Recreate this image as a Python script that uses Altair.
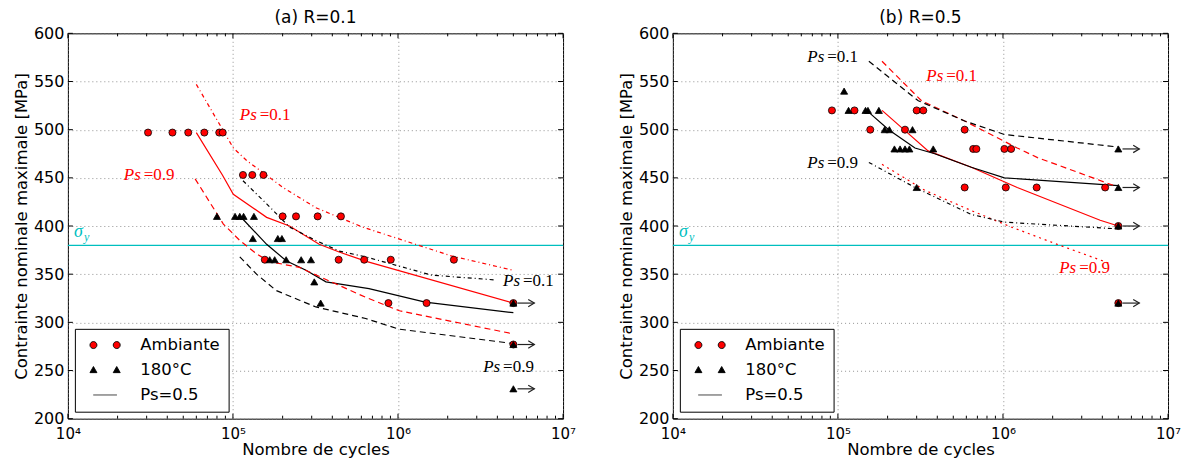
import altair as alt
import pandas as pd

W, H = 496, 386
FONT = "DejaVu Sans"
SERIF = "Liberation Serif"
RED = "#ff0000"
CYAN = "#00bfbf"

# ---------------- axis ticks ----------------
x_major = [1e4, 1e5, 1e6, 1e7]
x_minor = [2e4, 3e4, 4e4, 5e4, 6e4, 7e4, 8e4, 9e4,
           2e5, 3e5, 4e5, 5e5, 6e5, 7e5, 8e5, 9e5,
           2e6, 3e6, 4e6, 5e6, 6e6, 7e6, 8e6, 9e6]
y_major = [200, 250, 300, 350, 400, 450, 500, 550, 600]
sigma_y = [380]
RUN_N = 5.0e6
ARROW_N = [5.3e6, 6.7e6]

# ---------------- panel (a) R=0.1 ----------------
a_amb_N = [30600, 43000, 53600, 67100, 82600, 86700, 115000, 131000, 153000,
           200000, 241000, 326000, 451000, 156000, 437000, 624000, 904000, 2180000,
           875000, 1490000]
a_amb_S = [497, 497, 497, 497, 497, 497, 453, 453, 453,
           410, 410, 410, 410, 365, 365, 365, 365, 365,
           320, 320]
a_hot_N = [80000, 103000, 110000, 116000, 134000, 132000, 187000, 198000,
           167000, 179000, 210000, 259000, 297000, 311000, 340000]
a_hot_S = [410, 410, 410, 410, 410, 387, 387, 387,
           365, 365, 365, 365, 365, 342, 320]
a_run_amb_S = [320, 277]
a_run_hot_S = [320, 277, 231]

a_amb_p50_N = [60000, 86300, 100500, 160000, 220000, 333000, 440000, 650000, 5.0e6]
a_amb_p50_S = [497, 453, 433, 409, 400, 381, 373, 363, 320]
a_hot_p50_N = [115000, 160000, 210000, 277000, 366000, 667000, 1460000, 5.0e6]
a_hot_p50_S = [407, 381, 364, 354, 342, 335, 321, 310]
a_amb_p10_N = [60000, 100500, 121000, 201000, 318000, 607000, 2100000, 5.0e6]
a_amb_p10_S = [547, 481, 468, 440, 419, 399, 369, 354]
a_hot_p10_N = [115000, 160000, 220000, 318000, 440000, 637000, 1600000, 3900000]
a_hot_p10_S = [447, 423, 399, 385, 374, 368, 349, 344]
a_amb_p90_N = [59000, 87500, 110000, 139000, 167000, 253000, 383000, 637000, 1020000, 5.0e6]
a_amb_p90_S = [449, 402, 385, 371, 363, 357, 343, 326, 312, 288]
a_hot_p90_N = [110000, 139000, 183000, 253000, 318000, 637000, 1010000, 5.0e6]
a_hot_p90_S = [368, 350, 333, 323, 316, 304, 293, 278]

a_lab_val = ["0.1", "0.9", "0.1", "0.9"]
a_lab_N = [110000, 21800, 4330000, 3280000]
a_lab_S = [515, 453, 343, 254]
a_lab_col = [RED, RED, "black", "black"]

# ---------------- panel (b) R=0.5 ----------------
b_amb_N = [92000, 126000, 300000, 329000, 157000, 255000, 586000,
           660000, 690000, 1020000, 1120000, 586000, 1040000, 1600000, 4160000]
b_amb_S = [520, 520, 520, 520, 500, 500, 500,
           480, 480, 480, 480, 440, 440, 440, 440]
b_hot_N = [109000, 116000, 147000, 152000, 177000, 192000, 205000, 283000,
           220000, 238000, 255000, 271000, 378000, 300000]
b_hot_S = [540, 520, 520, 520, 520, 500, 500, 500,
           480, 480, 480, 480, 480, 440]
b_run_amb_S = [400, 320]
b_run_hot_S = [480, 440, 400, 320]

b_amb_p50_N = [185000, 255000, 352000, 643000, 1220000, 3880000, 5.0e6]
b_amb_p50_S = [520, 499, 478, 461, 440, 406, 400]
b_hot_p50_N = [154000, 203000, 293000, 386000, 643000, 1020000, 5.0e6]
b_hot_p50_S = [518, 500, 481, 475, 461, 450, 442]
b_amb_p10_N = [185000, 321000, 586000, 1220000, 1620000, 4700000]
b_amb_p10_S = [571, 530, 509, 481, 471, 442]
b_hot_p10_N = [154000, 307000, 586000, 1020000, 5.0e6]
b_hot_p10_S = [571, 530, 509, 495, 482]
b_amb_p90_N = [185000, 337000, 643000, 1120000, 2130000, 4460000]
b_amb_p90_S = [464, 437, 416, 399, 381, 361]
b_hot_p90_N = [154000, 293000, 643000, 1020000, 5.0e6]
b_hot_p90_S = [466, 440, 412, 404, 397]

b_lab_val = ["0.1", "0.1", "0.9", "0.9"]
b_lab_N = [65200, 343000, 65200, 2190000]
b_lab_S = [575, 556, 465, 356]
b_lab_col = ["black", RED, "black", RED]

SERIES = ["Ambiante", "180°C", "Ps=0.5"]
# legend glyphs: two markers per entry, like the original
LEG_SHAPES = [
    "M -4.33 0 A 1 1 0 1 0 -2.33 0 A 1 1 0 1 0 -4.33 0 Z M 2.33 0 A 1 1 0 1 0 4.33 0 A 1 1 0 1 0 2.33 0 Z",
    "M -3.33 -1 L -2.33 0.75 L -4.33 0.75 Z M 3.33 -1 L 4.33 0.75 L 2.33 0.75 Z",
    "M -3.4 0 L 3.4 0",
]

x_scale = alt.Scale(type="log", domain=[1e4, 1e7], nice=False)
y_scale = alt.Scale(domain=[200, 600], nice=False, zero=False)

x_axis = alt.Axis(values=x_major, title="Nombre de cycles", grid=True, ticks=False, domain=False,
                  labelExpr="datum.value < 5e4 ? '10⁴' : datum.value < 5e5 ? '10⁵' : datum.value < 5e6 ? '10⁶' : '10⁷'",
                  labelPadding=8, labelFontSize=15, titlePadding=0, labelFlush=False)
y_axis = alt.Axis(values=y_major, title="Contrainte nominale maximale [MPa]", grid=True, ticks=False,
                  domain=False, labelPadding=4, titlePadding=4)

X = alt.X("N:Q", scale=x_scale, axis=x_axis)
Y = alt.Y("S:Q", scale=y_scale, axis=y_axis)


def panel(title, amb_N, amb_S, hot_N, hot_S, run_amb_S, run_hot_S, curves, lab_val, lab_N, lab_S, lab_col):
    layers = []
    # sigma_y line and label
    sy = pd.DataFrame({"S": sigma_y})
    layers.append(alt.Chart(sy).mark_rule(color=CYAN, strokeWidth=1.3).encode(y=Y))
    layers.append(alt.Chart(pd.DataFrame({"N": [1.09e4], "S": sigma_y, "t": ["σ"]})).mark_text(
        align="left", baseline="alphabetic", dy=-8, font=SERIF, fontStyle="italic", fontSize=18, color=CYAN
    ).encode(x=X, y=Y, text="t:N"))
    layers.append(alt.Chart(pd.DataFrame({"N": [1.09e4], "S": sigma_y, "t": ["y"]})).mark_text(
        align="left", baseline="alphabetic", dx=10, dy=-4, font=SERIF, fontStyle="italic", fontSize=12, color=CYAN
    ).encode(x=X, y=Y, text="t:N"))

    # inward ticks on all four sides
    xt_major = pd.DataFrame({"N": x_major})
    xt_minor = pd.DataFrame({"N": x_minor})
    yt = pd.DataFrame({"S": y_major})
    for d, ln in ((xt_major, 5), (xt_minor, 3)):
        layers.append(alt.Chart(d).mark_rule(color="black", strokeWidth=1).encode(
            x=X, y=alt.value(0), y2=alt.value(ln)))
        layers.append(alt.Chart(d).mark_rule(color="black", strokeWidth=1).encode(
            x=X, y=alt.value(H), y2=alt.value(H - ln)))
    layers.append(alt.Chart(yt).mark_rule(color="black", strokeWidth=1).encode(
        y=Y, x=alt.value(0), x2=alt.value(5)))
    layers.append(alt.Chart(yt).mark_rule(color="black", strokeWidth=1).encode(
        y=Y, x=alt.value(W), x2=alt.value(W - 5)))

    # probability curves
    for Ns, Ss, col, dash in curves:
        d = pd.DataFrame({"N": Ns, "S": Ss})
        mk = dict(color=col, strokeWidth=1.2)
        if dash:
            mk["strokeDash"] = dash
        layers.append(alt.Chart(d).mark_line(**mk).encode(x=X, y=Y))

    # runout arrows
    run_S = sorted(set(run_amb_S + run_hot_S))
    arr = pd.DataFrame({"N": [ARROW_N[0]] * len(run_S), "N2": [ARROW_N[1]] * len(run_S), "S": run_S})
    layers.append(alt.Chart(arr).mark_rule(color="#222", strokeWidth=1.2).encode(x=X, x2="N2:Q", y=Y))
    head = pd.DataFrame({"N": [ARROW_N[1]] * len(run_S), "S": run_S})
    layers.append(alt.Chart(head).mark_point(
        shape="M -1 -0.6 L 0 0 L -1 0.6", size=150, filled=False, color="#222", strokeWidth=1.2, opacity=1
    ).encode(x=X, y=Y))

    # data points (literal styles)
    n_amb = len(amb_N) + len(run_amb_S)
    n_hot = len(hot_N) + len(run_hot_S)
    pts = pd.DataFrame({
        "N": amb_N + [RUN_N] * len(run_amb_S) + hot_N + [RUN_N] * len(run_hot_S),
        "S": amb_S + run_amb_S + hot_S + run_hot_S,
        "f": [RED] * n_amb + ["black"] * n_hot,
        "sh": ["circle"] * n_amb + ["triangle-up"] * n_hot,
    })
    layers.append(alt.Chart(pts).mark_point(size=50, opacity=1, strokeWidth=0.8, stroke="black").encode(
        x=X, y=Y,
        fill=alt.Fill("f:N", scale=None),
        shape=alt.Shape("sh:N", scale=None),
    ))

    # legend (driven by an empty layer with explicit domains)
    legend = alt.Legend(title=None, orient="bottom-left", offset=7, padding=8, strokeColor="black",
                        fillColor="white", labelFont=FONT, labelFontSize=16.5, symbolSize=49,
                        symbolStrokeWidth=0.9, rowPadding=8, symbolOffset=14, labelOffset=27,
                        cornerRadius=0, labelColor="black")
    leg = pd.DataFrame({"serie": pd.Series([], dtype=str)})
    layers.append(alt.Chart(leg).mark_point(opacity=1, filled=True).encode(
        fill=alt.Fill("serie:N", scale=alt.Scale(domain=SERIES, range=[RED, "black", "black"]), legend=legend),
        stroke=alt.Stroke("serie:N", scale=alt.Scale(domain=SERIES, range=["black", "black", "#333"]), legend=legend),
        shape=alt.Shape("serie:N", scale=alt.Scale(domain=SERIES, range=LEG_SHAPES), legend=legend),
    ))

    # Ps labels: italic "Ps" + upright "=value"
    lab = pd.DataFrame({"N": lab_N, "S": lab_S, "t": ["Ps"] * len(lab_N),
                        "v": ["=" + v for v in lab_val], "c": lab_col})
    layers.append(alt.Chart(lab).mark_text(
        align="left", baseline="middle", font=SERIF, fontStyle="italic", fontSize=17
    ).encode(x=X, y=Y, text="t:N", color=alt.Color("c:N", scale=None)))
    layers.append(alt.Chart(lab).mark_text(
        align="left", baseline="middle", font=SERIF, fontSize=17, dx=20
    ).encode(x=X, y=Y, text="v:N", color=alt.Color("c:N", scale=None)))

    return alt.layer(*layers).properties(
        width=W, height=H,
        title=alt.TitleParams(title, font=FONT, fontSize=17, fontWeight="normal", offset=-2,
                              color="black", frame="group"),
    )


curves_a = [
    (a_amb_p50_N, a_amb_p50_S, RED, None),
    (a_hot_p50_N, a_hot_p50_S, "black", None),
    (a_amb_p10_N, a_amb_p10_S, RED, [4, 3, 1, 3]),
    (a_hot_p10_N, a_hot_p10_S, "black", [4, 3, 1, 3]),
    (a_amb_p90_N, a_amb_p90_S, RED, [6, 4]),
    (a_hot_p90_N, a_hot_p90_S, "black", [6, 4]),
]
curves_b = [
    (b_amb_p50_N, b_amb_p50_S, RED, None),
    (b_hot_p50_N, b_hot_p50_S, "black", None),
    (b_amb_p10_N, b_amb_p10_S, RED, [6, 4]),
    (b_hot_p10_N, b_hot_p10_S, "black", [6, 4]),
    (b_amb_p90_N, b_amb_p90_S, RED, [2, 4]),
    (b_hot_p90_N, b_hot_p90_S, "black", [4, 3, 1, 3]),
]

left = panel("(a) R=0.1", a_amb_N, a_amb_S, a_hot_N, a_hot_S, a_run_amb_S, a_run_hot_S,
             curves_a, a_lab_val, a_lab_N, a_lab_S, a_lab_col)
right = panel("(b) R=0.5", b_amb_N, b_amb_S, b_hot_N, b_hot_S, b_run_amb_S, b_run_hot_S,
              curves_b, b_lab_val, b_lab_N, b_lab_S, b_lab_col)

chart = alt.hconcat(left, right, spacing=40).resolve_scale(
    fill="independent", stroke="independent", shape="independent"
).properties(
    padding={"left": 4, "top": 0, "right": 0, "bottom": 0},
    background="white",
).configure_view(
    stroke="black", strokeWidth=1
).configure_axis(
    labelFont=FONT, labelFontSize=16, labelColor="black",
    titleFont=FONT, titleFontSize=16.5, titleFontWeight="normal", titleColor="black",
    gridColor="#777", gridDash=[1, 3], gridWidth=0.8,
)

chart.save("out.html", embed_options={"renderer": "svg", "actions": False})
